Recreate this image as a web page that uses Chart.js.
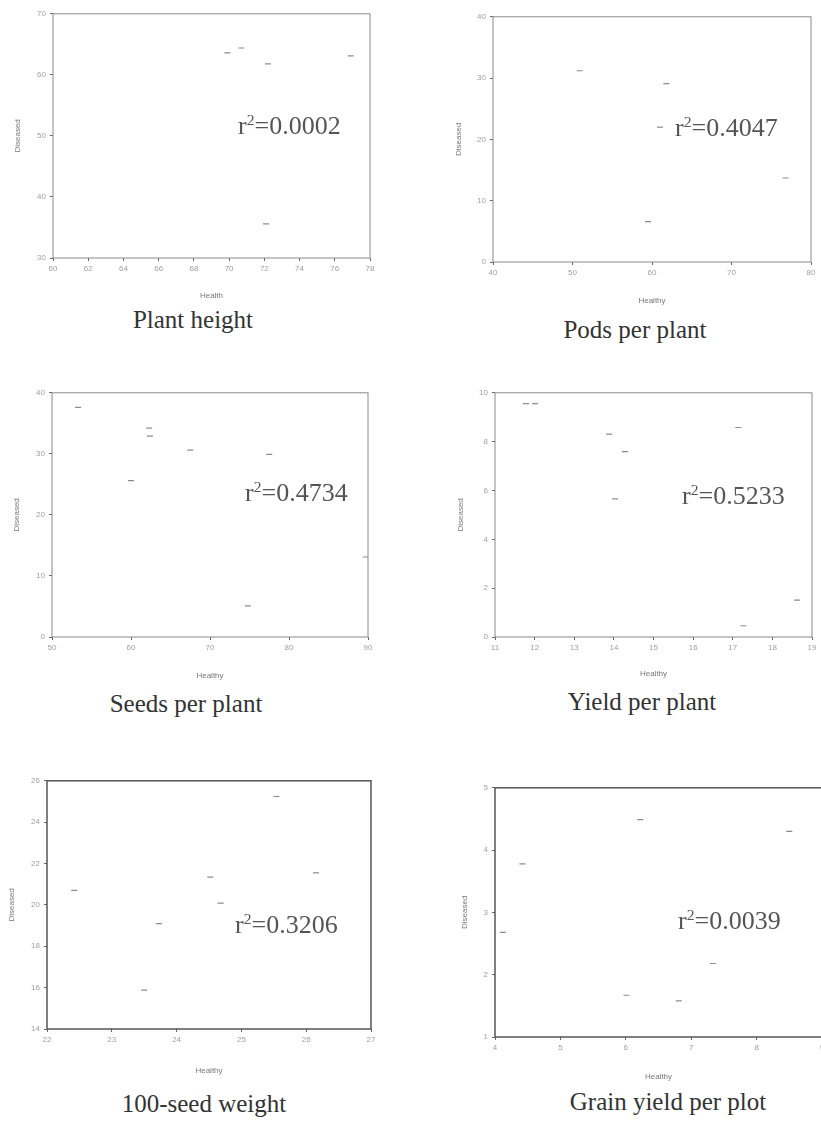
<!DOCTYPE html>
<html>
<head>
<meta charset="utf-8">
<script src="https://cdn.jsdelivr.net/npm/chart.js@4.4.1/dist/chart.umd.min.js"></script>
<style>
    html, body { margin: 0; padding: 0; background: #fff; }
    body { width: 821px; height: 1123px; position: relative; overflow: hidden; }
    canvas { position: absolute; }
    .caption {
        position: absolute; width: 300px; text-align: center;
        font-family: 'Liberation Serif', 'Times New Roman', serif;
        font-size: 25px; line-height: 25px; color: #333; white-space: nowrap;
    }
    .rsq {
        position: absolute;
        font-family: 'Liberation Serif', 'Times New Roman', serif;
        font-size: 26px; line-height: 26px; color: #555; white-space: nowrap;
    }
    .rsq sup { font-size: 0.6em; vertical-align: baseline; position: relative; top: -0.55em; }
</style>
</head>
<body>

<script>
// healthy vs diseased plant values, one pair of arrays per trait
const heightHealthy = [69.9, 70.7, 72.1, 72.2, 76.9];
const heightDiseased = [63.6, 64.4, 35.6, 61.8, 63.1];

const podsHealthy = [50.9, 61.8, 59.5, 76.8, 61.0];
const podsDiseased = [31.2, 29.1, 6.6, 13.7, 22.0];

const seedsHealthy = [53.3, 62.3, 62.4, 60.0, 67.5, 77.5, 74.8, 89.7];
const seedsDiseased = [37.6, 34.2, 32.9, 25.6, 30.6, 29.9, 5.1, 13.1];

const yieldHealthy = [11.78, 12.01, 13.88, 14.28, 14.03, 17.14, 17.27, 18.62];
const yieldDiseased = [9.56, 9.56, 8.31, 7.59, 5.66, 8.58, 0.46, 1.51];

const seedWtHealthy = [22.42, 23.73, 23.5, 24.52, 24.68, 25.54, 26.15];
const seedWtDiseased = [20.7, 19.09, 15.88, 21.34, 20.09, 25.24, 21.55];

const grainHealthy = [4.12, 4.42, 6.22, 6.01, 6.81, 7.33, 8.5];
const grainDiseased = [2.68, 3.78, 4.49, 1.67, 1.58, 2.18, 4.3];

const traitNames = ['Plant height', 'Pods per plant', 'Seeds per plant',
                    'Yield per plant', '100-seed weight', 'Grain yield per plot'];
const rSquared = ['0.0002', '0.4047', '0.4734', '0.5233', '0.3206', '0.0039'];
const xAxisNames = ['Health', 'Healthy', 'Healthy', 'Healthy', 'Healthy', 'Healthy'];

// axis ranges [min, max, step]
const xRanges = [[60, 78, 2], [40, 80, 10], [50, 90, 10], [11, 19, 1], [22, 27, 1], [4, 9, 1]];
const yRanges = [[30, 70, 10], [0, 40, 10], [0, 40, 10], [0, 10, 2], [14, 26, 2], [1, 5, 1]];

const seriesX = [heightHealthy, podsHealthy, seedsHealthy, yieldHealthy, seedWtHealthy, grainHealthy];
const seriesY = [heightDiseased, podsDiseased, seedsDiseased, yieldDiseased, seedWtDiseased, grainDiseased];

// page layout: plot box [left, top, right, bottom], axis title spots, caption and r2 text spots
const panels = [
    { box: [53, 13, 370, 258],   yTitleX: 18,  xTitleY: 296,  cap: [193, 328],  rsq: [238, 135], frame: '#8a8a8a', lw: 1 },
    { box: [493, 16, 811, 262],  yTitleX: 459, xTitleY: 301,  cap: [635, 338],  rsq: [675, 137], frame: '#8a8a8a', lw: 1 },
    { box: [52, 392, 368, 637],  yTitleX: 17,  xTitleY: 676,  cap: [186, 712],  rsq: [245, 502], frame: '#8a8a8a', lw: 1 },
    { box: [495, 392, 812, 637], yTitleX: 461, xTitleY: 674,  cap: [642, 710],  rsq: [682, 505], frame: '#8a8a8a', lw: 1 },
    { box: [47, 780, 371, 1029], yTitleX: 12,  xTitleY: 1071, cap: [204, 1112], rsq: [235, 934], frame: '#555', lw: 1.5 },
    { box: [495, 787, 822, 1037], yTitleX: 465, xTitleY: 1077, cap: [668, 1110], rsq: [678, 930], frame: '#555', lw: 1.5 }
];

// closed frame round the plot area
const framePlugin = {
    id: 'frame',
    afterDraw(chart, args, opts) {
        const a = chart.chartArea;
        const ctx = chart.ctx;
        ctx.save();
        ctx.strokeStyle = opts.color;
        ctx.lineWidth = opts.width;
        ctx.strokeRect(a.left, a.top, a.right - a.left, a.bottom - a.top);
        ctx.restore();
    }
};

const tickFont = { family: "'Liberation Sans', Arial, sans-serif", size: 8 };
const titleFont = { family: "'Liberation Sans', Arial, sans-serif", size: 8 };

panels.forEach((p, i) => {
    const [bl, bt, br, bb] = p.box;
    const half = titleFont.size * 1.2 / 2;

    const left = Math.round(p.yTitleX - 6);
    const top = bt - 8;
    const right = br + 8;
    const bottom = Math.round(p.xTitleY + 6);

    const canvas = document.createElement('canvas');
    canvas.style.left = left + 'px';
    canvas.style.top = top + 'px';
    canvas.style.width = (right - left) + 'px';
    canvas.style.height = (bottom - top) + 'px';
    canvas.width = right - left;
    canvas.height = bottom - top;
    document.body.appendChild(canvas);

    const yWidth = bl - left;
    const xHeight = bottom - bb;

    new Chart(canvas, {
        type: 'scatter',
        data: {
            datasets: [{
                data: seriesX[i].map((x, k) => ({ x: x, y: seriesY[i][k] })),
                pointStyle: 'line',
                pointRadius: 3,
                borderColor: '#8c8c8c',
                backgroundColor: '#8c8c8c',
                borderWidth: 1.2
            }]
        },
        options: {
            responsive: false,
            animation: false,
            events: [],
            layout: { padding: { top: 8, right: 8, left: 0, bottom: 0 } },
            plugins: {
                legend: { display: false },
                tooltip: { enabled: false },
                frame: { color: p.frame, width: p.lw }
            },
            scales: {
                x: {
                    type: 'linear',
                    min: xRanges[i][0],
                    max: xRanges[i][1],
                    border: { display: false },
                    grid: { drawOnChartArea: false, drawTicks: true, tickLength: 3, color: '#666' },
                    ticks: { stepSize: xRanges[i][2], autoSkip: false, maxRotation: 0, padding: 3,
                             color: '#a0a0a0', font: tickFont },
                    title: { display: true, text: xAxisNames[i], color: '#777', font: titleFont,
                             padding: { top: 0, bottom: (bottom - p.xTitleY) - half } },
                    afterFit(s) { s.height = xHeight; }
                },
                y: {
                    type: 'linear',
                    min: yRanges[i][0],
                    max: yRanges[i][1],
                    border: { display: false },
                    grid: { drawOnChartArea: false, drawTicks: true, tickLength: 3, color: '#666' },
                    ticks: { stepSize: yRanges[i][2], padding: 4, color: '#a0a0a0', font: tickFont },
                    title: { display: true, text: 'Diseased', color: '#777', font: titleFont,
                             padding: { top: (p.yTitleX - left) - half, bottom: 0 } },
                    afterFit(s) { s.width = yWidth; }
                }
            }
        },
        plugins: [framePlugin]
    });

    // r squared note inside the plot
    const r = document.createElement('div');
    r.className = 'rsq';
    r.style.left = p.rsq[0] + 'px';
    r.style.top = (p.rsq[1] - 22) + 'px';
    r.innerHTML = 'r<sup>2</sup>=' + rSquared[i];
    document.body.appendChild(r);

    // trait caption under each plot
    const c = document.createElement('div');
    c.className = 'caption';
    c.style.left = (p.cap[0] - 150) + 'px';
    c.style.top = (p.cap[1] - 21) + 'px';
    c.textContent = traitNames[i];
    document.body.appendChild(c);
});
</script>
</body>
</html>
